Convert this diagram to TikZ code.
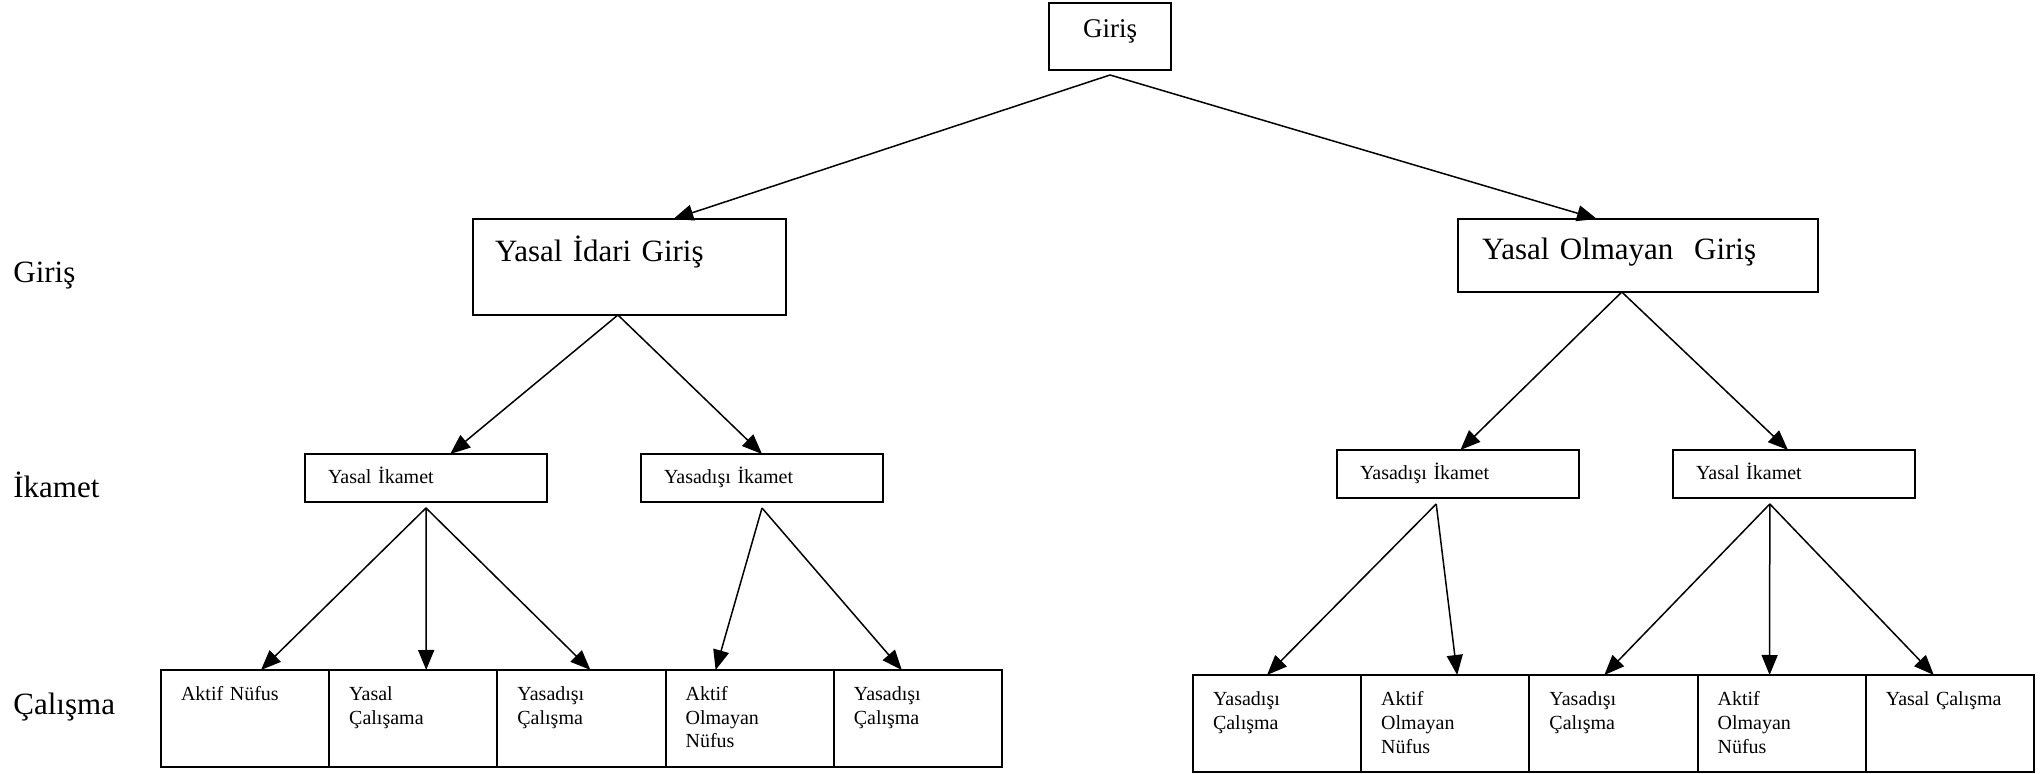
\documentclass[tikz,border=0pt]{standalone}
\usepackage{fontspec}
\setmainfont{Liberation Serif}
\usepackage{tikz}
\usetikzlibrary{calc,arrows.meta,positioning}

\begin{document}
\begin{tikzpicture}[x=0.5pt,y=-0.5pt,font=\fontsize{10}{12}\selectfont]

\tikzset{box/.style={draw,line width=1pt,outer sep=0pt,inner ysep=0pt,anchor=north west,align=left},
bigbox/.style={box,font=\fontsize{15.5}{18}\selectfont},
resbox/.style={box,inner xsep=11.5pt,text width=98pt,text height=15pt,text depth=9pt},
cellbox/.style={box,inner xsep=10pt,text width=64.1pt,text height=15pt,text depth=33.5pt},
rowlabel/.style={font=\fontsize{15.5}{18}\selectfont,anchor=base west,inner sep=0pt},
arr/.style={line width=0.75pt,-{Triangle[length=10pt,width=8pt]}}}

\useasboundingbox (0,0) rectangle (2040,774);

% Row labels
\node[rowlabel] (lgiris) at (13,283) {Giriş};
\node[rowlabel] (likamet) at (13,498) {İkamet};
\node[rowlabel] (lcalisma) at (13,714) {Çalışma};

% Top node
\node[box,font=\fontsize{13.5}{16}\selectfont,inner xsep=0pt,text width=61pt,align=center,text height=17.5pt,text depth=16pt] (giris) at (1049,3) {Giriş};

% Entry nodes
\node[bigbox,inner xsep=11pt,text width=134.5pt,text height=21.5pt,text depth=26.5pt] (yig) at (473,219) {Yasal İdari Giriş};
\node[bigbox,inner xsep=12pt,text width=156pt,text height=20.5pt,text depth=16pt] (yog) at (1458,219) {Yasal Olmayan~ Giriş};

% Residence nodes
\node[resbox] (lyi) at (305,454) {Yasal İkamet};
\node[resbox] (lyd) at (641,454) {Yasadışı İkamet};
\node[resbox] (ryd) at (1337,450) {Yasadışı İkamet};
\node[resbox] (ryi) at (1673,450) {Yasal İkamet};

% Left work cells
\node[cellbox] (l1) at (161,670) {Aktif Nüfus};
\node[cellbox,right=0pt of l1] (l2) {Yasal\\Çalışama};
\node[cellbox,right=0pt of l2] (l3) {Yasadışı\\Çalışma};
\node[cellbox,right=0pt of l3] (l4) {Aktif\\Olmayan\\Nüfus};
\node[cellbox,right=0pt of l4] (l5) {Yasadışı\\Çalışma};

% Right work cells
\node[cellbox] (r1) at (1193,675) {Yasadışı\\Çalışma};
\node[cellbox,right=0pt of r1] (r2) {Aktif\\Olmayan\\Nüfus};
\node[cellbox,right=0pt of r2] (r3) {Yasadışı\\Çalışma};
\node[cellbox,right=0pt of r3] (r4) {Aktif\\Olmayan\\Nüfus};
\node[cellbox,right=0pt of r4] (r5) {Yasal Çalışma};

% Branch points
\coordinate (ga) at ($(giris.south)+(0,5)$);
\coordinate (yiga) at ($(yig.south west)!0.463!(yig.south east)$);
\coordinate (yoga) at ($(yog.south west)!0.455!(yog.south east)$);
\coordinate (lyia) at ($(lyi.south)+(0,6)$);
\coordinate (lyda) at ($(lyd.south)+(0,6)$);
\coordinate (ryda) at ($(ryd.south west)!0.41!(ryd.south east)+(0,6)$);
\coordinate (ryia) at ($(ryi.south west)!0.40!(ryi.south east)+(0,6)$);

% Edges
\draw[arr] (ga) -- ($(yig.north west)!0.64!(yig.north east)$); \draw[arr] (ga) -- ($(yog.north west)!0.386!(yog.north east)$);
\draw[arr] (yiga) -- ($(lyi.north west)!0.6!(lyi.north east)$); \draw[arr] (yiga) -- (lyd.north);
\draw[arr] (yoga) -- ($(ryd.north west)!0.51!(ryd.north east)$); \draw[arr] (yoga) -- ($(ryi.north west)!0.475!(ryi.north east)$);
\draw[arr] (lyia) -- ($(l1.north west)+(100,0)$); \draw[arr] (lyia) -- ($(l2.north west)+(97,0)$); \draw[arr] (lyia) -- ($(l3.north west)+(93,0)$);
\draw[arr] (lyda) -- ($(l4.north west)+(50,0)$); \draw[arr] (lyda) -- ($(l5.north west)+(68,0)$);
\draw[arr] (ryda) -- ($(r1.north west)+(74,0)$); \draw[arr] (ryda) -- ($(r2.north west)+(96,0)$);
\draw[arr] (ryia) -- ($(r3.north west)+(75,0)$); \draw[arr] (ryia) -- ($(r4.north west)+(72,0)$); \draw[arr] (ryia) -- ($(r5.north west)+(68,0)$);

\end{tikzpicture}
\end{document}
